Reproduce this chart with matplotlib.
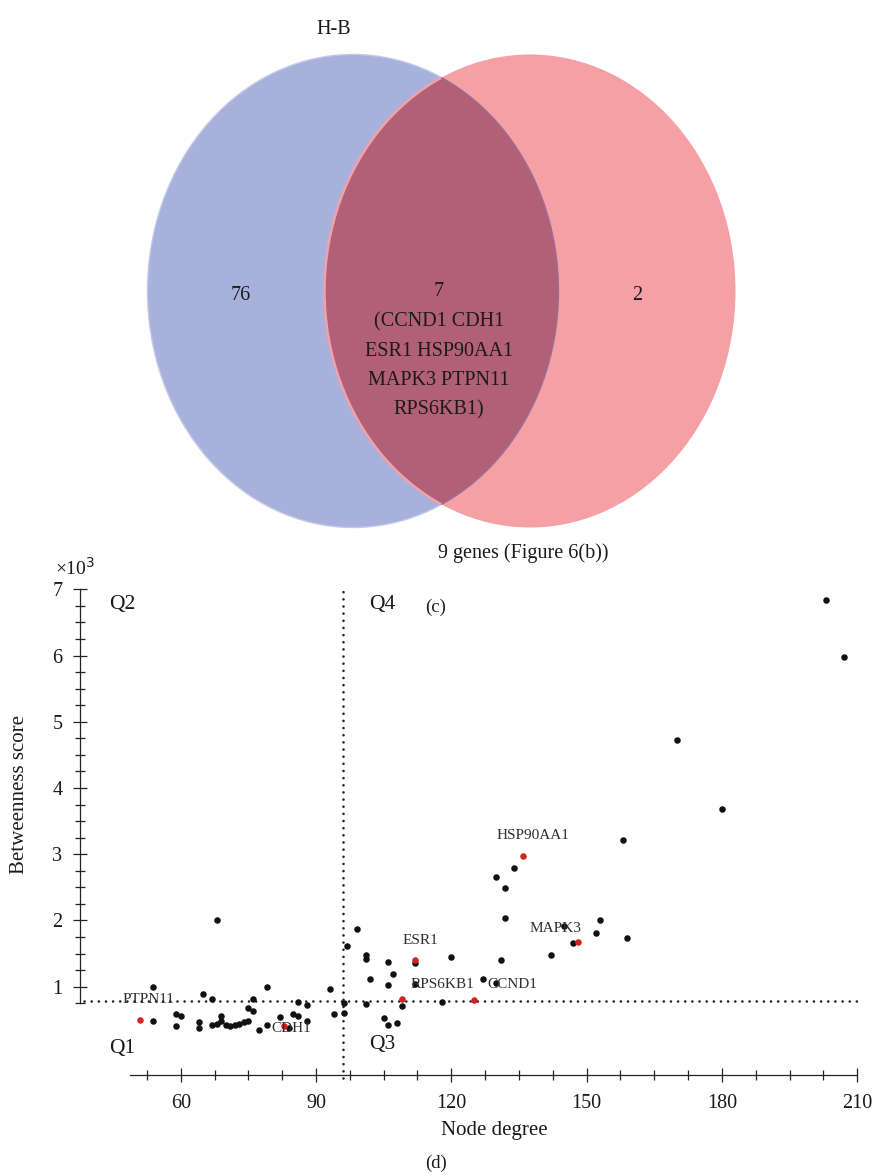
import matplotlib
matplotlib.use("Agg")
import matplotlib.pyplot as plt
from matplotlib.patches import Ellipse
from matplotlib.ticker import FixedLocator

plt.rcParams['font.family'] = ['Liberation Serif', 'DejaVu Serif']

# ---------------- Venn counts ----------------
venn_set_a = "H-B"
venn_set_b = "9 genes (Figure 6(b))"
only_a = 76
shared = 7
only_b = 2
shared_genes = ["CCND1", "CDH1", "ESR1", "HSP90AA1", "MAPK3", "PTPN11", "RPS6KB1"]

# ---------------- Network topology ----------------
node_degree = [68.0, 53.9, 65.0, 67.0, 79.1, 76.0, 75.0, 76.0, 86.1, 87.9,
               93.1, 96.9, 99.0, 96.1, 94.0, 96.1, 53.9, 59.0, 60.1, 59.0,
               64.0, 64.0, 67.0, 68.0, 69.0, 69.0, 70.0, 71.0, 72.0, 73.0,
               74.0, 75.0, 77.4, 79.1, 82.0, 84.1, 85.0, 86.1, 87.9, 158.0,
               134.0, 130.0, 132.0, 132.0, 153.0, 145.0, 152.0, 159.0, 147.0, 142.0,
               131.0, 120.0, 112.0, 101.0, 101.0, 106.0, 107.0, 102.0, 106.0, 112.0,
               127.0, 130.0, 109.0, 118.0, 101.0, 105.0, 106.0, 108.0, 203.0, 207.0,
               170.0, 180.0]
betweenness = [2.01, 0.99, 0.89, 0.81, 0.99, 0.81, 0.68, 0.63, 0.77, 0.73,
               0.97, 1.62, 1.87, 0.76, 0.59, 0.60, 0.48, 0.59, 0.56, 0.41,
               0.46, 0.38, 0.42, 0.43, 0.56, 0.48, 0.42, 0.41, 0.42, 0.44,
               0.46, 0.48, 0.34, 0.42, 0.54, 0.38, 0.59, 0.56, 0.48, 3.21,
               2.79, 2.65, 2.49, 2.04, 2.01, 1.92, 1.81, 1.73, 1.66, 1.48,
               1.41, 1.45, 1.36, 1.48, 1.42, 1.38, 1.19, 1.11, 1.03, 1.04,
               1.12, 1.05, 0.71, 0.77, 0.74, 0.52, 0.42, 0.45, 6.84, 5.98,
               4.73, 3.69]

hub_genes = ["PTPN11", "CDH1", "ESR1", "RPS6KB1", "CCND1", "HSP90AA1", "MAPK3"]
hub_degree = [51.0, 83.0, 112.0, 109.0, 125.0, 136.0, 148.0]
hub_betweenness = [0.50, 0.41, 1.40, 0.82, 0.80, 2.97, 1.68]

degree_cut = 96.0
betweenness_cut = 0.78

# label placement (data coordinates of the label centre)
label_pos = {"PTPN11": (52.9, 0.80), "CDH1": (84.6, 0.37), "ESR1": (113.2, 1.70),
             "RPS6KB1": (118.1, 1.03), "CCND1": (133.6, 1.03),
             "HSP90AA1": (138.1, 3.28), "MAPK3": (143.0, 1.88)}

W, H = 873, 1176
fig = plt.figure(figsize=(W / 100, H / 100), dpi=100)


def fx(px):
    return px / W


def fy(py):
    return 1 - py / H


# ================= Venn diagram =================
VH = 620
axv = fig.add_axes([0, 1 - VH / H, 1, VH / H])
axv.set_xlim(0, W)
axv.set_ylim(VH, 0)
axv.axis("off")

blue = "#A8B0DC"
pink = "#F4A0A5"
overlap = "#B25F78"
ew, eh = 411, 473
left = Ellipse((353, 291), ew, eh, fc=blue, ec="#C4C9E8", lw=1.0)
right = Ellipse((530, 291), ew, eh, fc=pink, ec="none")
axv.add_patch(left)
axv.add_patch(right)
mid = Ellipse((530, 291), ew, eh, fc=overlap, ec="none")
axv.add_patch(mid)
mid.set_clip_path(left)
edge_r = Ellipse((530, 291), ew, eh, fc="none", ec="#F0A2A8", lw=1.8)
axv.add_patch(edge_r)
edge_r.set_clip_path(Ellipse((353, 291), ew, eh, transform=axv.transData))
edge_l = Ellipse((353, 291), ew, eh, fc="none", ec="#9A6F95", lw=1.0)
axv.add_patch(edge_l)
edge_l.set_clip_path(Ellipse((530, 291), ew, eh, transform=axv.transData))

tc = "#1a1a1a"
vfs = 14.5
axv.text(334, 29, venn_set_a, ha="center", va="center", fontsize=vfs, color=tc)
axv.text(241, 296, str(only_a), ha="center", va="center", fontsize=vfs, color=tc)
axv.text(637, 295, str(only_b), ha="center", va="center", fontsize=vfs, color=tc)
axv.text(439, 292, str(shared), ha="center", va="center", fontsize=vfs, color=tc)
gene_lines = ["(" + " ".join(shared_genes[0:2]),
              " ".join(shared_genes[2:4]),
              " ".join(shared_genes[4:6]),
              shared_genes[6] + ")"]
for i, line in enumerate(gene_lines):
    axv.text(439, 322 + i * 29.3, line, ha="center", va="center", fontsize=vfs, color=tc)
axv.text(523, 553, venn_set_b, ha="center", va="center", fontsize=vfs, color=tc)
fig.text(fx(436), fy(607), "(c)", ha="center", va="center", fontsize=13.5, color=tc)

# ================= Scatter plot =================
x0, x1 = 37.0, 212.0
y0, y1 = -0.5, 7.2
px_per_x = 4.51
px_per_y = 66.23
left_px = 180.7 - (60 - x0) * px_per_x
right_px = 180.7 + (x1 - 60) * px_per_x
bot_px = 1052.9 - y0 * px_per_y
top_px = 1052.9 - y1 * px_per_y
ax = fig.add_axes([fx(left_px), fy(bot_px), (right_px - left_px) / W, (bot_px - top_px) / H])
ax.set_xlim(x0, x1)
ax.set_ylim(y0, y1)
ax.patch.set_alpha(0)

for s in ("top", "right"):
    ax.spines[s].set_visible(False)
ax.spines["left"].set_position(("data", 37.7))
ax.spines["left"].set_bounds(0.75, 7.0)
ax.spines["bottom"].set_position(("data", -0.33))
ax.spines["bottom"].set_bounds(48.75, 210)
for s in ("left", "bottom"):
    ax.spines[s].set_linewidth(0.9)
    ax.spines[s].set_color("#222222")

ax.xaxis.set_major_locator(FixedLocator([60, 90, 120, 150, 180, 210]))
ax.xaxis.set_minor_locator(FixedLocator([52.5 + 7.5 * i for i in range(21)]))
ax.yaxis.set_major_locator(FixedLocator([1, 2, 3, 4, 5, 6, 7]))
ax.yaxis.set_minor_locator(FixedLocator([0.75 + 0.25 * i for i in range(26)]))
ax.tick_params(which="both", direction="inout", width=0.9, color="#222222",
               labelsize=14.5, labelcolor=tc)
ax.tick_params(which="major", length=10.5, pad=7.5)
ax.tick_params(which="minor", length=6.5)
ax.tick_params(axis="x", which="major", pad=8.5)

# quadrant dividers
dot = dict(color="#222222", lw=1.9, linestyle=(0, (0.01, 2.7)), dash_capstyle="round")
ax.plot([degree_cut, degree_cut], [-0.38, 7.0], **dot)
ax.plot([38.6, 210], [betweenness_cut, betweenness_cut], **dot)

ax.scatter(node_degree, betweenness, s=22, color="#111111", lw=0, zorder=3)
ax.scatter(hub_degree, hub_betweenness, s=22, color="#D2231E", lw=0, zorder=4)
for g in hub_genes:
    lx, ly = label_pos[g]
    ax.text(lx, ly, g, ha="center", va="center", fontsize=11, color="#2e2e2e", zorder=5)

qfs = 15.5
ax.text(44.2, 6.77, "Q2", ha="left", va="center", fontsize=qfs, color=tc)
ax.text(101.7, 6.77, "Q4", ha="left", va="center", fontsize=qfs, color=tc)
ax.text(44.2, 0.07, "Q1", ha="left", va="center", fontsize=qfs, color=tc)
ax.text(101.7, 0.12, "Q3", ha="left", va="center", fontsize=qfs, color=tc)

fig.text(fx(75), fy(568), r"×10$^{3}$", ha="center", va="center", fontsize=14, color=tc)
fig.text(fx(20), fy(795), "Betweenness score", rotation=90, ha="center", va="center",
         fontsize=15, color=tc)
fig.text(fx(494), fy(1130), "Node degree", ha="center", va="center", fontsize=15, color=tc)
fig.text(fx(436), fy(1163), "(d)", ha="center", va="center", fontsize=13.5, color=tc)

fig.savefig("out.png", dpi=100, facecolor="white")
